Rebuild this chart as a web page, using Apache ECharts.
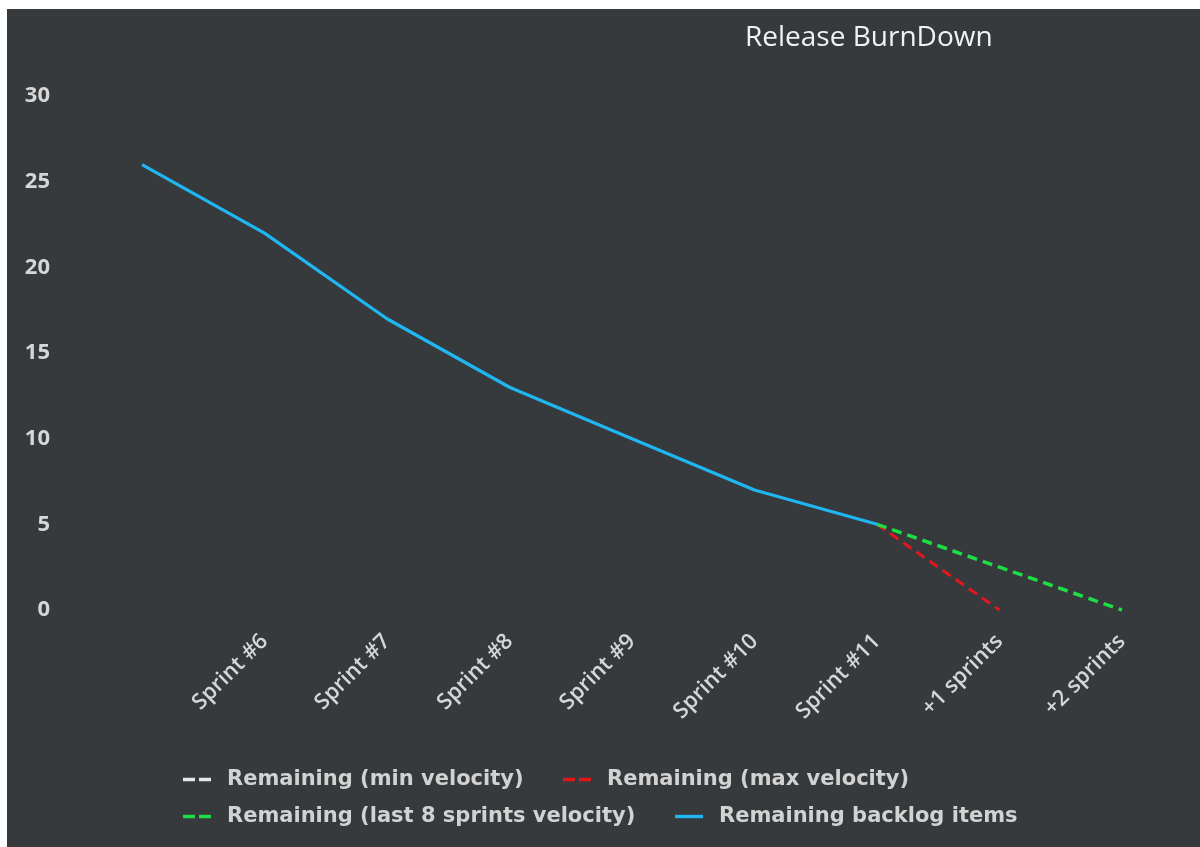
<!DOCTYPE html>
<html>
<head>
<meta charset="utf-8">
<script src="https://cdn.jsdelivr.net/npm/echarts@6/dist/echarts.min.js"></script>
<style>
html,body{margin:0;padding:0;background:#ffffff;width:1200px;height:847px;overflow:hidden;}
#chart{position:absolute;left:7px;top:9px;width:1193px;height:838px;}
</style>
</head>
<body>
<div id="chart"></div>
<script>
// ---- data ----
var categories = ['', 'Sprint #6', 'Sprint #7', 'Sprint #8', 'Sprint #9', 'Sprint #10', 'Sprint #11', '+1 sprints', '+2 sprints'];
var minVelocity = [null, null, null, null, null, null, null, null, null];
var maxVelocity = [null, null, null, null, null, null, 5, 0, null];
var last8Velocity = [null, null, null, null, null, null, 5, 2.5, 0];
var backlog = [26, 22, 17, 13, 10, 7, 5, null, null];
var seriesNames = ['Remaining (min velocity)', 'Remaining (max velocity)', 'Remaining (last 8 sprints velocity)', 'Remaining backlog items'];
var yTicks = { min: 0, max: 30, interval: 5 };

var chart = echarts.init(document.getElementById('chart'));
var labelColor = '#d6d6d6';
var legendText = { color: '#d2d2d2', fontFamily: 'DejaVu Sans', fontWeight: 'bold', fontSize: 21, padding: [0, 0, 0, 11] };
var dashIcon = 'path://M0,0H12V3.4H0Z M16,0H28V3.4H16Z';
var solidIcon = 'path://M0,0H28V3.4H0Z';
function lg(name, icon, left, top) {
  return { data: [{ name: name, icon: icon }], left: left, top: top, itemWidth: 28, itemHeight: 14, padding: 0, textStyle: legendText, selectedMode: false };
}
chart.setOption({
  backgroundColor: '#363a3d',
  animation: false,
  title: {
    text: 'Release BurnDown', left: 738, top: 15, padding: 0,
    textStyle: { color: '#f2f2f2', fontFamily: 'Open Sans', fontWeight: 'normal', fontSize: 28 }
  },
  legend: [
    lg(seriesNames[0], dashIcon, 176, 760),
    lg(seriesNames[1], dashIcon, 556, 760),
    lg(seriesNames[2], dashIcon, 176, 797),
    lg(seriesNames[3], solidIcon, 668, 797)
  ],
  grid: { left: 135, right: 78, top: 87, bottom: 237 },
  xAxis: {
    type: 'category', data: categories, boundaryGap: false,
    axisLine: { show: false }, axisTick: { show: false }, splitLine: { show: false },
    axisLabel: { rotate: 45, margin: 28, color: labelColor, fontFamily: 'Open Sans', fontWeight: 600, fontSize: 22, interval: 0 }
  },
  yAxis: {
    type: 'value', min: yTicks.min, max: yTicks.max, interval: yTicks.interval,
    axisLine: { show: false }, axisTick: { show: false }, splitLine: { show: false },
    axisLabel: { margin: 92, color: labelColor, fontFamily: 'Open Sans', fontWeight: 'bold', fontSize: 22 }
  },
  series: [
    { name: seriesNames[0], type: 'line', data: minVelocity, showSymbol: false, symbol: 'none',
      lineStyle: { color: '#e8e8e8', width: 3, type: [10, 6] }, itemStyle: { color: '#e8e8e8' } },
    { name: seriesNames[1], type: 'line', data: maxVelocity, showSymbol: false, symbol: 'none',
      lineStyle: { color: '#e0181c', width: 3, type: [10, 6] }, itemStyle: { color: '#e0181c' } },
    { name: seriesNames[2], type: 'line', data: last8Velocity, showSymbol: false, symbol: 'none',
      lineStyle: { color: '#1ede45', width: 3.5, type: [10, 6] }, itemStyle: { color: '#1ede45' } },
    { name: seriesNames[3], type: 'line', data: backlog, showSymbol: false, symbol: 'none',
      lineStyle: { color: '#1fb6f2', width: 3.2, join: 'round' }, itemStyle: { color: '#1fb6f2' } }
  ]
});
</script>
</body>
</html>
